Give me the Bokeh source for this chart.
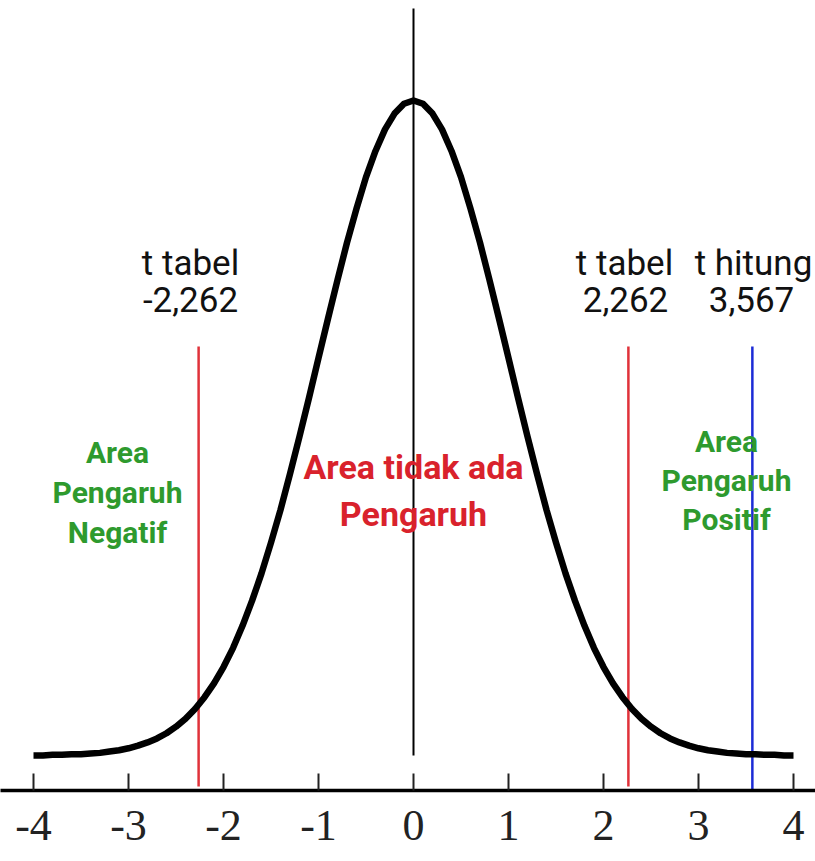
from bokeh.plotting import figure
from bokeh.models import Range1d, FixedTicker
from bokeh.core.properties import value
from bokeh.embed import file_html
from bokeh.resources import INLINE

# ---------------- data ----------------
t_x = [-4.0, -3.9, -3.8, -3.7, -3.6, -3.5, -3.4, -3.3, -3.2, -3.1,
       -3.0, -2.9, -2.8, -2.7, -2.6, -2.5, -2.4, -2.3, -2.2, -2.1,
       -2.0, -1.9, -1.8, -1.7, -1.6, -1.5, -1.4, -1.3, -1.2, -1.1,
       -1.0, -0.9, -0.8, -0.7, -0.6, -0.5, -0.4, -0.3, -0.2, -0.1,
       0.0, 0.1, 0.2, 0.3, 0.4, 0.5, 0.6, 0.7, 0.8, 0.9,
       1.0, 1.1, 1.2, 1.3, 1.4, 1.5, 1.6, 1.7, 1.8, 1.9,
       2.0, 2.1, 2.2, 2.3, 2.4, 2.5, 2.6, 2.7, 2.8, 2.9,
       3.0, 3.1, 3.2, 3.3, 3.4, 3.5, 3.6, 3.7, 3.8, 3.9, 4.0]

# curve height relative to the peak
curve_height = [0.000, 0.000, 0.001, 0.001, 0.002, 0.002, 0.003, 0.004, 0.006, 0.008,
                0.011, 0.015, 0.020, 0.026, 0.034, 0.044, 0.056, 0.071, 0.089, 0.110,
                0.135, 0.164, 0.198, 0.236, 0.278, 0.325, 0.375, 0.430, 0.487, 0.546,
                0.607, 0.667, 0.726, 0.783, 0.835, 0.883, 0.923, 0.956, 0.980, 0.995,
                1.000, 0.995, 0.980, 0.956, 0.923, 0.883, 0.835, 0.783, 0.726, 0.667,
                0.607, 0.546, 0.487, 0.430, 0.375, 0.325, 0.278, 0.236, 0.198, 0.164,
                0.135, 0.110, 0.089, 0.071, 0.056, 0.044, 0.034, 0.026, 0.020, 0.015,
                0.011, 0.008, 0.006, 0.004, 0.003, 0.002, 0.002, 0.001, 0.001, 0.000, 0.000]

tick_values = [-4, -3, -2, -1, 0, 1, 2, 3, 4]
tick_labels = ["-4", "-3", "-2", "-1", "0", "1", "2", "3", "4"]

t_tabel_left = -2.262
t_tabel_right = 2.262
t_hitung = 3.567

label_tabel = "t tabel"
label_hitung = "t hitung"
area_negative = ["Area", "Pengaruh", "Negatif"]
area_none = ["Area tidak ada", "Pengaruh"]
area_positive = ["Area", "Pengaruh", "Positif"]


def fmt(v):
    return f"{v:.3f}".replace(".", ",")


# ---------------- layout helpers (pixel -> data) ----------------
X0_PX, X_SCALE = 413.0, 95.0
Y0_PX, Y_SCALE = 755.0, 655.0
TXT_SHIFT = 14


def dx(px):
    return (px - X0_PX) / X_SCALE


def dy(py):
    return (Y0_PX - py) / Y_SCALE


def ty(py):
    return dy(py - TXT_SHIFT)


W, H = 815, 861
AXIS_PX = 790
x_start = dx(0)
x_end = dx(W)
y_top = dy(0)
y_bottom = dy(AXIS_PX)

p = figure(width=W, height=H, output_backend="svg", toolbar_location=None,
           x_range=Range1d(x_start, x_end), y_range=Range1d(y_bottom, y_top),
           min_border_left=0, min_border_right=0, min_border_top=0,
           min_border_bottom=H - AXIS_PX, y_axis_location=None)
p.outline_line_color = None
p.xgrid.visible = False
p.ygrid.visible = False
p.background_fill_color = "white"
p.border_fill_color = "white"

ax = p.xaxis[0]
ax.ticker = FixedTicker(ticks=tick_values)
ax.major_label_overrides = {v: s for v, s in zip(tick_values, tick_labels)}
ax.axis_line_width = 3.5
ax.axis_line_color = "black"
ax.major_tick_in = 17
ax.major_tick_out = 0
ax.minor_tick_in = 0
ax.minor_tick_out = 0
ax.major_tick_line_width = 2
ax.major_tick_line_color = "#222222"
ax.major_label_text_font = "Liberation Serif"
ax.major_label_text_font_size = "44px"
ax.major_label_text_color = "#222222"
ax.major_label_standoff = 20

# vertical centre line
p.segment(x0=[0], y0=[0], x1=[0], y1=[dy(8)], line_color="black", line_width=2)

# critical value lines
LINE_TOP = dy(346)
p.segment(x0=[t_tabel_left, t_tabel_right], y0=[LINE_TOP, LINE_TOP],
          x1=[t_tabel_left, t_tabel_right], y1=[dy(786), dy(786)],
          line_color="#e0323a", line_width=2.5)
p.segment(x0=[t_hitung], y0=[LINE_TOP], x1=[t_hitung], y1=[y_bottom],
          line_color="#1c2bd6", line_width=2.5)

# density curve
p.line(t_x, curve_height, line_color="black", line_width=6.5, line_join="round")

FONT = value("Roboto")

# black labels
p.text(x=[dx(190), dx(190), dx(624), dx(625), dx(753), dx(751)],
       y=[ty(277), ty(313), ty(277), ty(313), ty(277), ty(313)],
       text=[label_tabel, fmt(t_tabel_left), label_tabel, fmt(t_tabel_right),
             label_hitung, fmt(t_hitung)],
       text_font=FONT, text_font_size="35px", text_color="#111111",
       text_align="center", text_baseline="alphabetic")

# green left
p.text(x=[dx(117)] * 3, y=[ty(466), ty(506), ty(546)], text=area_negative,
       text_font=FONT, text_font_size="30px", text_font_style="bold",
       text_color="#2e9a2e", text_align="center", text_baseline="alphabetic")

# green right
p.text(x=[dx(726)] * 3, y=[ty(455), ty(494), ty(533)], text=area_positive,
       text_font=FONT, text_font_size="30px", text_font_style="bold",
       text_color="#2e9a2e", text_align="center", text_baseline="alphabetic")

# red centre
p.text(x=[dx(413)] * 2, y=[ty(480), ty(527)], text=area_none,
       text_font=FONT, text_font_size="34px", text_font_style="bold",
       text_color="#d9222c", text_align="center", text_baseline="alphabetic")

open("out.html", "w").write(file_html(p, INLINE))
